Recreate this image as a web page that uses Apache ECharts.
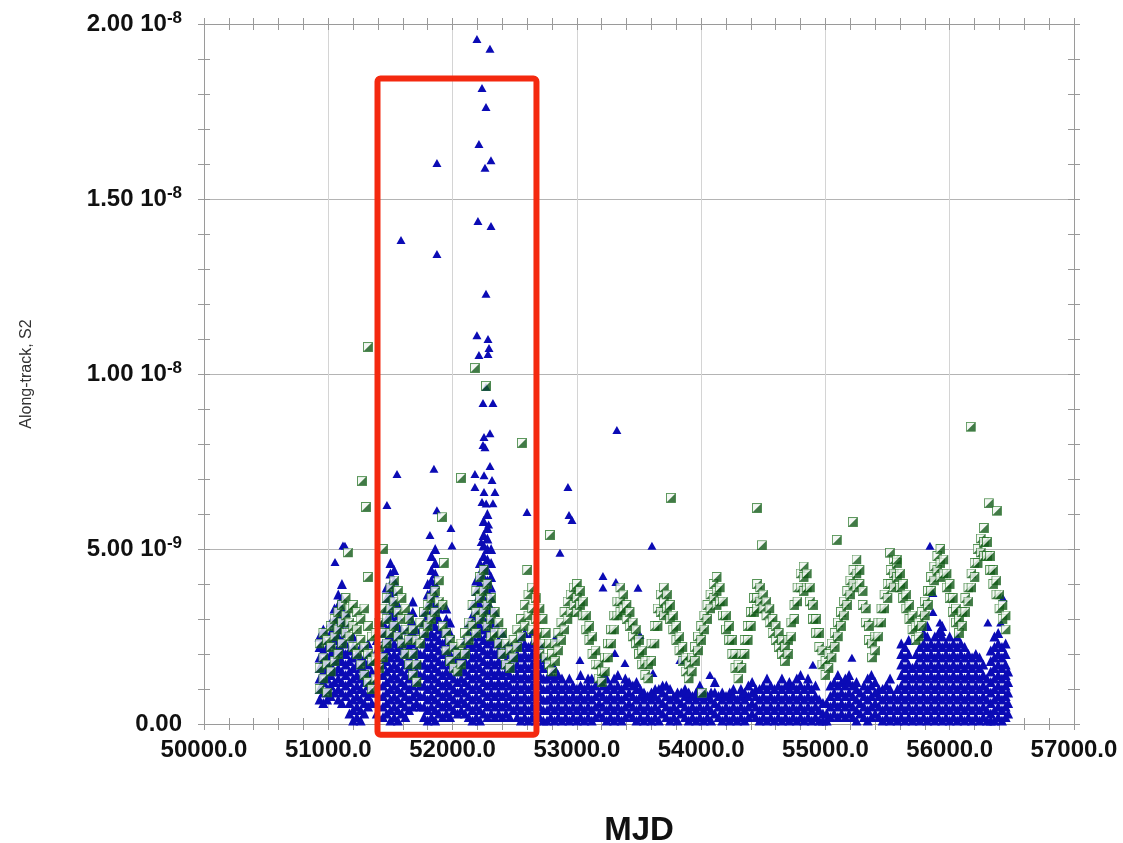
<!DOCTYPE html>
<html>
<head>
<meta charset="utf-8">
<script src="https://cdn.jsdelivr.net/npm/echarts@6/dist/echarts.min.js"></script>
<style>
  html, body { margin: 0; padding: 0; background: #fff; }
  #chart { width: 1123px; height: 843px; }
</style>
</head>
<body>
<div id="chart"></div>
<script>
// values are in units of 1e-9 ; each row = [MJD, y1, y2, ...]
var blueEarly = [
  [50930, 0.7, 1.0, 1.3, 1.6, 1.9, 2.2, 2.5],
  [50960, 0.6, 0.9, 1.2, 1.5, 1.8, 2.1, 2.4, 2.7],
  [50990, 0.7, 1.0, 1.3, 1.6, 1.9, 2.2],
  [51020, 0.8, 1.1, 1.4, 1.7, 2.0, 2.3, 2.6, 2.9],
  [51050, 0.9, 1.2, 1.5, 1.8, 2.1, 2.4, 2.7, 3.0, 3.3],
  [51080, 0.7, 1.0, 1.3, 1.6, 1.9, 2.2, 2.5, 2.8, 3.1, 3.4, 3.7],
  [51110, 0.6, 0.9, 1.2, 1.5, 1.8, 2.1, 2.4, 2.7, 3.0, 3.3, 3.6, 4.0],
  [51140, 0.8, 1.1, 1.4, 1.7, 2.0, 2.3, 2.6, 2.9, 3.2],
  [51170, 0.3, 0.6, 0.9, 1.2, 1.5, 1.8, 2.1],
  [51200, 0.1, 0.4, 0.7, 1.0, 1.3, 1.6, 1.9, 2.2, 2.5],
  [51230, 0.2, 0.5, 0.8, 1.1, 1.4, 1.7, 2.0],
  [51260, 0.1, 0.4, 0.7, 1.0, 1.3, 1.6, 1.9, 2.2],
  [51290, 0.3, 0.6, 0.9, 1.2, 1.5, 1.8],
  [51320, 0.5, 0.8, 1.1, 1.4, 1.7, 2.0, 2.3],
  [51350, 0.6, 0.9, 1.2, 1.5, 1.8],
  [51390, 0.3, 0.6, 0.9, 1.2, 1.5, 1.8, 2.1, 2.4],
  [51440, 0.2, 0.5, 0.8, 1.1, 1.4, 1.7, 2.0, 2.3, 2.6, 2.9],
  [51470, 0.3, 0.6, 0.9, 1.2, 1.5, 1.8, 2.1, 2.4, 2.7, 3.0, 3.3, 3.6, 3.9],
  [51500, 0.1, 0.4, 0.7, 1.0, 1.3, 1.6, 1.9, 2.2, 2.5, 2.8, 3.1, 3.4, 3.7, 4.0, 4.3, 4.6],
  [51530, 0.2, 0.5, 0.8, 1.1, 1.4, 1.7, 2.0, 2.3, 2.6, 2.9, 3.2, 3.5, 3.8, 4.1, 4.4],
  [51560, 0.1, 0.4, 0.7, 1.0, 1.3, 1.6, 1.9, 2.2, 2.5, 2.8, 3.1, 3.4],
  [51590, 0.3, 0.6, 0.9, 1.2, 1.5, 1.8, 2.1, 2.4, 2.7],
  [51620, 0.2, 0.5, 0.8, 1.1, 1.4, 1.7, 2.0, 2.3],
  [51650, 0.4, 0.7, 1.0, 1.3, 1.6, 1.9, 2.2, 2.5, 2.8, 3.1],
  [51680, 0.5, 0.8, 1.1, 1.4, 1.7, 2.0, 2.3, 2.6, 2.9, 3.2, 3.5],
  [51710, 0.6, 0.9, 1.2, 1.5, 1.8, 2.1, 2.4, 2.7],
  [51740, 0.5, 0.8, 1.1, 1.4, 1.7, 2.0],
  [51770, 0.2, 0.5, 0.8, 1.1, 1.4, 1.7, 2.0, 2.3, 2.6, 2.9, 3.2],
  [51800, 0.1, 0.4, 0.7, 1.0, 1.3, 1.6, 1.9, 2.2, 2.5, 2.8, 3.1, 3.4, 3.7, 4.0],
  [51830, 0.2, 0.5, 0.8, 1.1, 1.4, 1.7, 2.0, 2.3, 2.6, 2.9, 3.2, 3.5, 3.8, 4.1, 4.4, 4.8],
  [51860, 0.1, 0.4, 0.7, 1.0, 1.3, 1.6, 1.9, 2.2, 2.5, 2.8, 3.1, 3.4, 3.7, 4.0, 4.3, 4.6, 5.0],
  [51890, 0.3, 0.6, 0.9, 1.2, 1.5, 1.8, 2.1, 2.4, 2.7, 3.0, 3.3],
  [51920, 0.2, 0.5, 0.8, 1.1, 1.4, 1.7, 2.0, 2.3, 2.6],
  [51950, 0.3, 0.6, 0.9, 1.2, 1.5, 1.8, 2.1, 2.4, 2.7, 3.0, 3.3],
  [51980, 0.2, 0.5, 0.8, 1.1, 1.4, 1.7, 2.0, 2.3, 2.6, 2.9],
  [52010, 0.4, 0.7, 1.0, 1.3, 1.6, 1.9, 2.2],
  [52040, 0.3, 0.6, 0.9, 1.2, 1.5, 1.8, 2.1],
  [52070, 0.4, 0.7, 1.0, 1.3, 1.6, 1.9],
  [52100, 0.3, 0.6, 0.9, 1.2, 1.5, 1.8, 2.1, 2.4],
  [52130, 0.2, 0.5, 0.8, 1.1, 1.4, 1.7, 2.0, 2.3, 2.6, 2.9],
  [52160, 0.1, 0.4, 0.7, 1.0, 1.3, 1.6, 1.9, 2.2, 2.5, 2.8, 3.1, 3.4],
  [52190, 0.2, 0.5, 0.8, 1.1, 1.4, 1.7, 2.0, 2.3, 2.6, 2.9, 3.2, 3.5, 3.8, 4.1],
  [52220, 0.1, 0.4, 0.7, 1.0, 1.3, 1.6, 1.9, 2.2, 2.5, 2.8, 3.1, 3.4, 3.7, 4.0, 4.3, 4.6],
  [52250, 0.3, 0.6, 0.9, 1.2, 1.5, 1.8, 2.1, 2.4, 2.7, 3.0, 3.3, 3.6, 3.9, 4.2, 4.5, 4.8, 5.1, 5.4, 5.8],
  [52280, 0.2, 0.5, 0.8, 1.1, 1.4, 1.7, 2.0, 2.3, 2.6, 2.9, 3.2, 3.5, 3.8, 4.1, 4.4, 4.7, 5.0, 5.3, 5.6, 6.0],
  [52310, 0.3, 0.6, 0.9, 1.2, 1.5, 1.8, 2.1, 2.4, 2.7, 3.0, 3.3, 3.6, 3.9, 4.2, 4.6, 5.0],
  [52340, 0.2, 0.5, 0.8, 1.1, 1.4, 1.7, 2.0, 2.3, 2.6, 2.9, 3.2],
  [52370, 0.3, 0.6, 0.9, 1.2, 1.5, 1.8, 2.1, 2.4],
  [52400, 0.2, 0.5, 0.8, 1.1, 1.4, 1.7, 2.0, 2.3, 2.6],
  [52430, 0.3, 0.6, 0.9, 1.2, 1.5, 1.8, 2.1],
  [52460, 0.2, 0.5, 0.8, 1.1, 1.4, 1.7, 2.0, 2.3],
  [52490, 0.4, 0.7, 1.0, 1.3, 1.6, 1.9],
  [52520, 0.2, 0.5, 0.8, 1.1, 1.4, 1.7, 2.0, 2.3],
  [52550, 0.1, 0.4, 0.7, 1.0, 1.3, 1.6, 1.9, 2.2, 2.5],
  [52580, 0.2, 0.5, 0.8, 1.1, 1.4, 1.7, 2.0, 2.3, 2.6],
  [52610, 0.1, 0.4, 0.7, 1.0, 1.3, 1.6, 1.9, 2.2],
  [52640, 0.2, 0.5, 0.8, 1.1, 1.4, 1.7, 2.0, 2.3, 2.6],
  [52670, 0.1, 0.4, 0.7, 1.0, 1.3, 1.6, 1.9, 2.2]
];

var blueLate = [
  [52700, 0.2, 0.5, 0.8, 1.1, 1.4, 1.7, 2.0, 2.3],
  [52730, 0.1, 0.4, 0.7, 1.0, 1.3, 1.6, 1.9],
  [52760, 0.1, 0.4, 0.7, 1.0, 1.3],
  [52790, 0.2, 0.5, 0.8, 1.1, 1.4],
  [52820, 0.1, 0.4, 0.7, 1.0, 1.3, 1.6],
  [52850, 0.2, 0.5, 0.8, 1.1, 1.4],
  [52880, 0.1, 0.4, 0.7, 1.0, 1.3],
  [52910, 0.2, 0.5, 0.8, 1.1],
  [52940, 0.1, 0.4, 0.7, 1.0, 1.3],
  [52970, 0.2, 0.5, 0.8, 1.1],
  [53000, 0.1, 0.4, 0.7, 1.0],
  [53030, 0.2, 0.5, 0.8, 1.1, 1.4],
  [53060, 0.1, 0.4, 0.7, 1.0],
  [53090, 0.2, 0.5, 0.8, 1.1, 1.3],
  [53120, 0.1, 0.4, 0.7, 1.0, 1.3],
  [53150, 0.2, 0.5, 0.8, 1.1],
  [53180, 0.3, 0.6, 0.9, 1.2],
  [53210, 0.2, 0.5, 0.8, 1.1, 1.4],
  [53240, 0.1, 0.4, 0.7, 1.0, 1.3],
  [53270, 0.2, 0.5, 0.8, 1.1],
  [53300, 0.1, 0.4, 0.7, 1.0, 1.3],
  [53330, 0.2, 0.5, 0.8, 1.1, 1.4],
  [53360, 0.1, 0.4, 0.7, 1.0],
  [53390, 0.2, 0.5, 0.8, 1.1, 1.3],
  [53420, 0.3, 0.6, 0.9, 1.2],
  [53450, 0.2, 0.5, 0.8, 1.1],
  [53480, 0.1, 0.4, 0.7, 1.0, 1.2],
  [53510, 0.2, 0.5, 0.8, 1.0],
  [53540, 0.1, 0.4, 0.7, 0.9],
  [53570, 0.2, 0.5, 0.8],
  [53600, 0.1, 0.4, 0.7, 0.9],
  [53630, 0.2, 0.5, 0.8, 1.0],
  [53660, 0.1, 0.4, 0.7, 1.0],
  [53690, 0.3, 0.6, 0.9, 1.1],
  [53720, 0.2, 0.5, 0.8, 1.1],
  [53750, 0.1, 0.4, 0.7, 1.0],
  [53780, 0.2, 0.5, 0.8],
  [53810, 0.1, 0.4, 0.7, 0.9],
  [53840, 0.3, 0.6, 0.9],
  [53870, 0.2, 0.5, 0.8, 1.0],
  [53900, 0.1, 0.4, 0.7, 0.9],
  [53930, 0.2, 0.5, 0.8],
  [53960, 0.1, 0.4, 0.7, 0.9],
  [53990, 0.2, 0.5, 0.8, 1.1],
  [54020, 0.1, 0.4, 0.7, 0.9],
  [54050, 0.2, 0.5, 0.8],
  [54080, 0.1, 0.4, 0.7, 0.9],
  [54110, 0.3, 0.6, 0.9, 1.2],
  [54140, 0.2, 0.5, 0.8],
  [54170, 0.1, 0.4, 0.7, 0.9],
  [54200, 0.2, 0.5, 0.8],
  [54230, 0.1, 0.4, 0.7, 0.9],
  [54260, 0.2, 0.5, 0.8, 1.0],
  [54290, 0.1, 0.4, 0.7],
  [54320, 0.2, 0.5, 0.8, 1.0],
  [54350, 0.1, 0.4, 0.7, 0.9],
  [54380, 0.2, 0.5, 0.8, 1.1],
  [54410, 0.3, 0.6, 0.9, 1.2],
  [54440, 0.2, 0.5, 0.8, 1.0],
  [54470, 0.1, 0.4, 0.7, 1.0],
  [54500, 0.2, 0.5, 0.8, 1.1],
  [54530, 0.1, 0.4, 0.7, 1.0, 1.3],
  [54560, 0.2, 0.5, 0.8, 1.1],
  [54590, 0.1, 0.4, 0.7, 1.0],
  [54620, 0.2, 0.5, 0.8, 1.1],
  [54650, 0.1, 0.4, 0.7, 1.0, 1.3],
  [54680, 0.2, 0.5, 0.8, 1.1],
  [54710, 0.1, 0.4, 0.7, 1.0, 1.2],
  [54740, 0.2, 0.5, 0.8, 1.1],
  [54770, 0.1, 0.4, 0.7, 1.0, 1.3],
  [54800, 0.2, 0.5, 0.8, 1.1, 1.4],
  [54830, 0.1, 0.4, 0.7, 1.0],
  [54860, 0.2, 0.5, 0.8, 1.1, 1.3],
  [54890, 0.1, 0.4, 0.7, 1.0],
  [54920, 0.2, 0.5, 0.8, 1.1],
  [54950, 0.1, 0.4, 0.7],
  [54980, 0.1, 0.3, 0.6],
  [55010, 0.1, 0.3, 0.6],
  [55040, 0.2, 0.5, 0.8, 1.1],
  [55070, 0.3, 0.6, 0.9, 1.2],
  [55100, 0.2, 0.5, 0.8, 1.1, 1.4],
  [55130, 0.3, 0.6, 0.9, 1.2],
  [55160, 0.2, 0.5, 0.8, 1.1, 1.3],
  [55190, 0.3, 0.6, 0.9, 1.2, 1.4],
  [55220, 0.2, 0.5, 0.8, 1.1],
  [55250, 0.1, 0.4, 0.7, 1.0, 1.2],
  [55280, 0.3, 0.6, 0.9],
  [55310, 0.2, 0.5, 0.8, 1.1],
  [55340, 0.1, 0.4, 0.7, 1.0, 1.3],
  [55370, 0.2, 0.5, 0.8, 1.1, 1.4],
  [55400, 0.3, 0.6, 0.9, 1.2],
  [55430, 0.2, 0.5, 0.8, 1.0],
  [55460, 0.1, 0.4, 0.7, 1.0],
  [55490, 0.2, 0.5, 0.8, 1.1],
  [55520, 0.1, 0.4, 0.7, 1.0, 1.3],
  [55550, 0.2, 0.5, 0.8],
  [55580, 0.1, 0.4, 0.7, 1.0],
  [55610, 0.2, 0.5, 0.8, 1.1, 1.4, 1.7, 2.0, 2.3],
  [55640, 0.1, 0.4, 0.7, 1.0, 1.3, 1.6, 1.9, 2.2],
  [55670, 0.2, 0.5, 0.8, 1.1, 1.4, 1.7, 2.0, 2.4],
  [55700, 0.1, 0.4, 0.7, 1.0, 1.3, 1.6],
  [55730, 0.2, 0.5, 0.8, 1.1, 1.4, 1.7, 2.0],
  [55760, 0.1, 0.4, 0.7, 1.0, 1.3, 1.6, 1.9, 2.2],
  [55790, 0.2, 0.5, 0.8, 1.1, 1.4, 1.7, 2.0, 2.3, 2.6],
  [55820, 0.1, 0.4, 0.7, 1.0, 1.3, 1.6, 1.9, 2.2, 2.5, 2.8],
  [55850, 0.2, 0.5, 0.8, 1.1, 1.4, 1.7, 2.0, 2.3],
  [55880, 0.1, 0.4, 0.7, 1.0, 1.3, 1.6, 1.9, 2.2, 2.5],
  [55910, 0.2, 0.5, 0.8, 1.1, 1.4, 1.7, 2.0, 2.3, 2.6],
  [55940, 0.1, 0.4, 0.7, 1.0, 1.3, 1.6, 1.9, 2.2, 2.5, 2.8],
  [55970, 0.2, 0.5, 0.8, 1.1, 1.4, 1.7, 2.0, 2.3],
  [56000, 0.1, 0.4, 0.7, 1.0, 1.3, 1.6, 1.9, 2.2, 2.5],
  [56030, 0.2, 0.5, 0.8, 1.1, 1.4, 1.7, 2.0, 2.3],
  [56060, 0.1, 0.4, 0.7, 1.0, 1.3, 1.6, 1.9, 2.2, 2.5],
  [56090, 0.2, 0.5, 0.8, 1.1, 1.4, 1.7, 2.0, 2.3],
  [56120, 0.1, 0.4, 0.7, 1.0, 1.3, 1.6, 1.9, 2.2],
  [56150, 0.2, 0.5, 0.8, 1.1, 1.4, 1.7, 2.0],
  [56180, 0.1, 0.4, 0.7, 1.0, 1.3, 1.6, 1.9],
  [56210, 0.2, 0.5, 0.8, 1.1, 1.4, 1.7, 2.0],
  [56240, 0.1, 0.4, 0.7, 1.0, 1.3, 1.6, 1.9],
  [56270, 0.2, 0.5, 0.8, 1.1, 1.4, 1.7],
  [56300, 0.1, 0.4, 0.7, 1.0, 1.3],
  [56330, 0.1, 0.3, 0.6, 0.9, 1.2, 1.5, 1.8, 2.1],
  [56360, 0.1, 0.4, 0.7, 1.0, 1.3, 1.6, 1.9, 2.2, 2.5],
  [56390, 0.2, 0.5, 0.8, 1.1, 1.4, 1.7, 2.0, 2.3, 2.6],
  [56420, 0.1, 0.4, 0.7, 1.0, 1.3, 1.6, 1.9, 2.2],
  [56450, 0.2, 0.5, 0.8, 1.1, 1.4, 1.7, 2.0, 2.3],
  [56470, 0.3, 0.6, 0.9, 1.2, 1.5]
];

var blueOutliers = [
  [52196, 19.57], [52301, 19.29], [52237, 18.17], [52269, 17.63], [52212, 16.57],
  [52309, 16.11], [52261, 15.89], [51874, 16.03], [52204, 14.37], [52309, 14.23],
  [51585, 13.83], [51874, 13.43], [52269, 12.29], [52196, 11.11], [52285, 11.0],
  [52293, 10.74], [52212, 10.54], [52285, 10.57], [52269, 9.63], [52245, 9.17],
  [52325, 9.17], [52301, 8.31], [52253, 8.2], [52245, 7.97], [52261, 7.91],
  [51553, 7.14], [51850, 7.29], [52180, 7.14], [52253, 7.11], [52301, 7.37],
  [52317, 6.97], [52180, 6.77], [52253, 6.63], [52341, 6.63], [53322, 8.4],
  [52928, 6.77], [52599, 6.06], [52937, 5.97], [52961, 5.83], [53604, 5.09],
  [52864, 4.89], [53210, 4.23], [53210, 3.9], [53314, 4.06], [53492, 3.89],
  [55841, 5.09], [51134, 5.09], [51054, 4.63], [51472, 6.26], [51874, 6.11],
  [51818, 5.4], [51987, 5.6], [52237, 6.34], [52325, 6.31], [52270, 6.3],
  [52290, 5.7], [52230, 5.2], [51118, 5.1], [51995, 5.1], [52824, 2.46],
  [52743, 1.83], [53025, 1.83], [53306, 2.03], [53387, 1.74], [53508, 2.54],
  [53612, 1.46], [53829, 1.83], [54071, 1.4], [55213, 1.89], [54899, 1.69],
  [55865, 3.74], [55865, 3.2], [55921, 2.9], [55937, 2.63], [56307, 2.9],
  [56428, 3.6], [56410, 2.9]
];

var greenEarly = [
  [50930, 2.3, 1.6, 1.0], [50960, 2.6, 1.9, 1.3], [50990, 2.4, 1.7, 0.9],
  [51020, 2.8, 2.2, 1.5], [51050, 3.0, 2.5, 1.8], [51080, 3.2, 2.7, 2.0],
  [51110, 3.4, 2.9, 2.3], [51140, 3.6, 3.1, 2.6], [51170, 3.3, 2.9, 2.5],
  [51200, 3.4, 2.8, 2.2], [51230, 3.2, 2.7, 2.0], [51260, 3.0, 2.4, 1.7],
  [51290, 3.3, 2.2, 1.4], [51320, 2.8, 2.0, 1.2], [51350, 2.5, 1.8, 1.0],
  [51380, 2.6, 1.9, 1.3], [51410, 2.9, 2.2, 1.6], [51440, 3.3, 2.6, 1.9],
  [51470, 3.6, 3.0, 2.3], [51500, 3.9, 3.3, 2.6], [51530, 4.1, 3.5, 2.8],
  [51560, 3.8, 3.2, 2.5], [51590, 3.6, 3.0, 2.3], [51620, 3.3, 2.7, 2.0],
  [51650, 3.0, 2.4, 1.7], [51680, 2.7, 2.0, 1.4], [51710, 2.4, 1.7, 1.2],
  [51740, 2.3, 2.9], [51770, 2.6, 3.2], [51800, 2.8, 3.4], [51830, 3.0, 3.6],
  [51860, 3.2, 3.8], [51890, 3.5, 4.1], [51920, 3.4, 2.8],
  [51950, 2.6, 2.1], [51980, 2.4, 1.8], [52010, 2.2, 1.6], [52040, 2.0, 1.5],
  [52070, 2.3, 1.7], [52100, 2.6, 2.0], [52130, 2.9, 2.4], [52160, 3.4, 2.8],
  [52190, 3.8, 3.2, 2.6], [52220, 4.2, 3.6, 3.0], [52250, 4.4, 3.8, 3.2],
  [52280, 4.0, 3.4, 2.8], [52310, 3.6, 3.0, 2.5], [52340, 3.2, 2.6],
  [52370, 2.9, 2.3], [52400, 2.6, 2.0], [52430, 2.3, 1.7], [52460, 2.1, 1.6],
  [52490, 2.4, 1.9], [52520, 2.7, 2.2], [52550, 3.0, 2.5], [52580, 3.4, 2.8],
  [52610, 3.7, 3.1], [52640, 3.9, 3.3, 2.7], [52670, 3.6, 3.0, 2.4]
];

var greenLate = [
  [52700, 3.3, 2.6, 2.0], [52725, 3.0, 2.3], [52750, 2.6, 1.9], [52775, 2.3, 1.7],
  [52800, 2.0, 1.5], [52825, 1.8, 2.3], [52850, 2.1, 2.6], [52875, 2.4, 2.9],
  [52900, 2.7, 3.2], [52925, 3.0, 3.5], [52950, 3.2, 3.7], [52975, 3.4, 3.9],
  [53000, 3.6, 3.2, 4.0], [53025, 3.4, 3.8], [53050, 3.1, 3.5], [53075, 2.7, 3.1],
  [53100, 2.4, 2.8], [53125, 2.0, 2.5], [53150, 1.7, 2.1], [53175, 1.3, 1.7],
  [53200, 1.2, 1.5], [53225, 1.5, 1.9], [53250, 1.9, 2.3], [53275, 2.3, 2.7],
  [53300, 2.7, 3.1], [53325, 3.1, 3.5], [53350, 3.5, 3.9, 3.2], [53375, 3.3, 3.7],
  [53400, 3.0, 3.4], [53425, 2.8, 3.2], [53450, 2.5, 2.9], [53475, 2.3, 2.7],
  [53500, 2.0, 2.4], [53525, 1.7, 2.1], [53550, 1.4, 1.8], [53575, 1.3, 1.7],
  [53600, 1.8, 2.3], [53625, 2.3, 2.8], [53650, 2.8, 3.3], [53675, 3.2, 3.7],
  [53700, 3.5, 3.9, 3.1], [53725, 3.3, 3.7], [53750, 3.0, 3.4], [53775, 2.7, 3.1],
  [53800, 2.4, 2.8], [53825, 2.1, 2.5], [53850, 1.8, 2.2], [53875, 1.5, 1.9],
  [53900, 1.3, 1.7], [53925, 1.5, 1.9], [53950, 1.8, 2.2], [53975, 2.1, 2.5],
  [54000, 2.4, 2.8], [54025, 2.7, 3.1], [54050, 3.0, 3.4], [54075, 3.3, 3.7],
  [54100, 3.6, 4.0], [54125, 3.8, 4.2, 3.4], [54150, 3.5, 3.9], [54175, 3.1, 3.5],
  [54200, 2.7, 3.1], [54225, 2.4, 2.8], [54250, 2.0, 2.4], [54275, 1.6, 2.0],
  [54300, 1.3, 1.7], [54325, 1.6, 2.0], [54350, 2.0, 2.4], [54375, 2.4, 2.8],
  [54400, 2.8, 3.2], [54425, 3.2, 3.6], [54450, 3.6, 4.0, 3.3], [54475, 3.5, 3.9],
  [54500, 3.3, 3.7], [54525, 3.1, 3.5], [54550, 2.9, 3.3], [54575, 2.6, 3.0],
  [54600, 2.4, 2.8], [54625, 2.2, 2.6], [54650, 2.0, 2.4], [54675, 1.8, 2.2],
  [54700, 2.0, 2.4], [54725, 2.5, 2.9], [54750, 3.0, 3.4], [54775, 3.5, 3.9],
  [54800, 3.9, 4.3], [54825, 4.2, 4.5, 3.8], [54850, 3.9, 4.3], [54875, 3.5, 3.9],
  [54900, 3.0, 3.4], [54925, 2.6, 3.0], [54950, 2.2, 2.6], [54975, 1.7, 2.1],
  [55000, 1.4, 1.8], [55025, 1.6, 2.0], [55050, 1.9, 2.3], [55075, 2.2, 2.6],
  [55100, 2.5, 2.9], [55125, 2.8, 3.2], [55150, 3.1, 3.5], [55175, 3.4, 3.8],
  [55200, 3.7, 4.1], [55225, 4.0, 4.4], [55250, 4.3, 4.7, 3.9], [55275, 4.0, 4.4],
  [55300, 3.4, 3.8], [55325, 2.9, 3.3], [55350, 2.4, 2.8], [55375, 1.9, 2.3],
  [55400, 2.1, 2.5], [55425, 2.5, 2.9], [55450, 2.9, 3.3], [55475, 3.3, 3.7],
  [55500, 3.6, 4.0], [55525, 4.0, 4.4], [55550, 4.3, 4.7, 3.9], [55575, 4.2, 4.6],
  [55600, 3.9, 4.3], [55625, 3.6, 4.0], [55650, 3.3, 3.7], [55675, 3.0, 3.4],
  [55700, 2.7, 3.1], [55725, 2.4, 2.8], [55750, 2.5, 2.9], [55775, 2.8, 3.2],
  [55800, 3.1, 3.5], [55825, 3.4, 3.8], [55850, 3.8, 4.2], [55875, 4.1, 4.5],
  [55900, 4.4, 4.8], [55925, 4.6, 5.0, 4.2], [55950, 4.3, 4.7], [55975, 3.9, 4.3],
  [56000, 3.6, 4.0], [56025, 3.2, 3.6], [56050, 2.9, 3.3], [56075, 2.6, 3.0],
  [56100, 2.8, 3.2], [56125, 3.2, 3.6], [56150, 3.5, 3.9], [56175, 3.9, 4.3],
  [56200, 4.2, 4.6], [56225, 4.6, 5.0], [56250, 4.9, 5.3], [56275, 5.2, 5.6, 4.8],
  [56300, 4.8, 5.2], [56325, 4.4, 4.8], [56350, 4.0, 4.4], [56375, 3.7, 4.1],
  [56400, 3.3, 3.7], [56425, 3.0, 3.4], [56450, 2.7, 3.1]
];

var greenOutliers = [
  [51319, 10.77], [51271, 6.94], [51303, 6.2], [51158, 4.9], [51319, 4.2],
  [51915, 5.91], [52068, 7.03], [52180, 10.17], [52269, 9.66], [52558, 8.03],
  [52784, 5.4], [53757, 6.46], [54449, 6.17], [54489, 5.11], [55092, 5.26],
  [55221, 5.77], [55519, 4.89], [55575, 4.69], [56170, 8.49], [56315, 6.31],
  [56380, 6.09], [54006, 0.89], [51440, 5.0], [51930, 4.6], [52600, 4.4]
];

var xTicks = [50000, 57000, 1000];
var yTicks = [0, 20, 5];
// red highlight box: MJD range and value range (1e-9)
var boxMjd = [51396, 52675];
var boxVal = [-0.31, 18.44];

var UNIT = 1e-9;
var FONT = '"Liberation Sans", Arial, Helvetica, sans-serif';

function flattenCols(cols) {
  var out = [];
  cols.forEach(function (c) {
    for (var i = 1; i < c.length; i++) out.push([c[0], c[i] * UNIT]);
  });
  return out;
}
function scalePts(pts) {
  return pts.map(function (p) { return [p[0], p[1] * UNIT]; });
}

var blueBand = flattenCols(blueEarly).concat(flattenCols(blueLate));
var blueSparse = scalePts(blueOutliers);
var greenData = flattenCols(greenEarly).concat(flattenCols(greenLate), scalePts(greenOutliers));

var svg = '<svg xmlns="http://www.w3.org/2000/svg" width="20" height="20">' +
  '<rect x="1" y="1" width="18" height="18" fill="#f2f6f2" stroke="#2d7a2d" stroke-width="2"/>' +
  '<path d="M19 1 L19 19 L1 19 Z" fill="#125a18"/></svg>';
var greenSymbol = 'image://data:image/svg+xml;base64,' + btoa(svg);

function yFmt(v) {
  if (Math.abs(v) < 1e-20) return '{m|0.00}';
  var e = Math.floor(Math.log10(v) + 1e-9);
  var m = v / Math.pow(10, e);
  return '{m|' + m.toFixed(2) + ' 10}{s|' + e + '}';
}

var axisGray = '#9a9a9a';
function xAx(pos, inside, main) {
  return {
    type: 'value', position: pos, min: xTicks[0], max: xTicks[1], interval: xTicks[2],
    axisLine: { show: true, onZero: false, lineStyle: { color: axisGray, width: 1 } },
    axisTick: { show: true, inside: inside, length: 6, lineStyle: { color: axisGray } },
    minorTick: { show: true, splitNumber: 5, length: 6, lineStyle: { color: axisGray } },
    axisLabel: main ? {
      show: true, margin: 14, fontSize: 24, fontWeight: 'bold', color: '#111', fontFamily: FONT,
      formatter: function (v) { return v.toFixed(1); }
    } : { show: false },
    splitLine: { show: main, lineStyle: { color: '#d4d4d4', width: 1 } },
    name: main ? 'MJD' : '', nameLocation: 'middle', nameGap: 90,
    nameTextStyle: { fontSize: 33, fontWeight: 'bold', color: '#111', fontFamily: FONT }
  };
}
function yAx(pos, inside, main) {
  return {
    type: 'value', position: pos, min: yTicks[0] * UNIT, max: yTicks[1] * UNIT, interval: yTicks[2] * UNIT,
    axisLine: { show: true, onZero: false, lineStyle: { color: axisGray, width: 1 } },
    axisTick: { show: true, inside: inside, length: 6, lineStyle: { color: axisGray } },
    minorTick: { show: true, splitNumber: 5, length: 6, lineStyle: { color: axisGray } },
    axisLabel: main ? {
      show: true, margin: 22, formatter: yFmt,
      rich: {
        m: { fontSize: 24, fontWeight: 'bold', color: '#111', fontFamily: FONT, lineHeight: 28 },
        s: { fontSize: 17, fontWeight: 'bold', color: '#111', fontFamily: FONT, lineHeight: 18, verticalAlign: 'top' }
      }
    } : { show: false },
    splitLine: { show: main, lineStyle: { color: '#b4b4b4', width: 1 } },
    name: main ? 'Along-track, S2' : '', nameLocation: 'middle', nameGap: 169, nameRotate: 90,
    nameTextStyle: { fontSize: 16, color: '#333', fontFamily: FONT }
  };
}

var chart = echarts.init(document.getElementById('chart'), null, { renderer: 'canvas' });
var option = {
  backgroundColor: '#fff',
  animation: false,
  grid: { left: 204, right: 49, top: 24, bottom: 119, containLabel: false, outerBoundsMode: 'none' },
  xAxis: [xAx('bottom', true, true), xAx('bottom', false, false), xAx('top', true, false), xAx('top', false, false)],
  yAxis: [yAx('left', true, true), yAx('left', false, false), yAx('right', true, false), yAx('right', false, false)],
  series: [
    {
      type: 'scatter', name: 'blue', data: blueBand, symbol: 'triangle', symbolSize: [10, 10],
      itemStyle: { color: '#0b0bb5', opacity: 1 }, progressive: 0, large: false, z: 2
    },
    {
      type: 'scatter', name: 'blue', data: blueSparse, symbol: 'triangle', symbolSize: [9, 8],
      itemStyle: { color: '#0b0bb5', opacity: 1 }, progressive: 0, large: false, z: 2
    },
    {
      type: 'scatter', name: 'green', data: greenData, symbol: greenSymbol, symbolSize: 10,
      progressive: 0, large: false, z: 3
    }
  ]
};
chart.setOption(option);

var p0 = chart.convertToPixel({ xAxisIndex: 0, yAxisIndex: 0 }, [boxMjd[0], boxVal[1] * UNIT]);
var p1 = chart.convertToPixel({ xAxisIndex: 0, yAxisIndex: 0 }, [boxMjd[1], boxVal[0] * UNIT]);
chart.setOption({
  graphic: [{
    type: 'rect', z: 100,
    shape: { x: p0[0], y: p0[1], width: p1[0] - p0[0], height: p1[1] - p0[1], r: 3 },
    style: { fill: 'none', stroke: '#f4290f', lineWidth: 6 }
  }]
});
</script>
</body>
</html>
